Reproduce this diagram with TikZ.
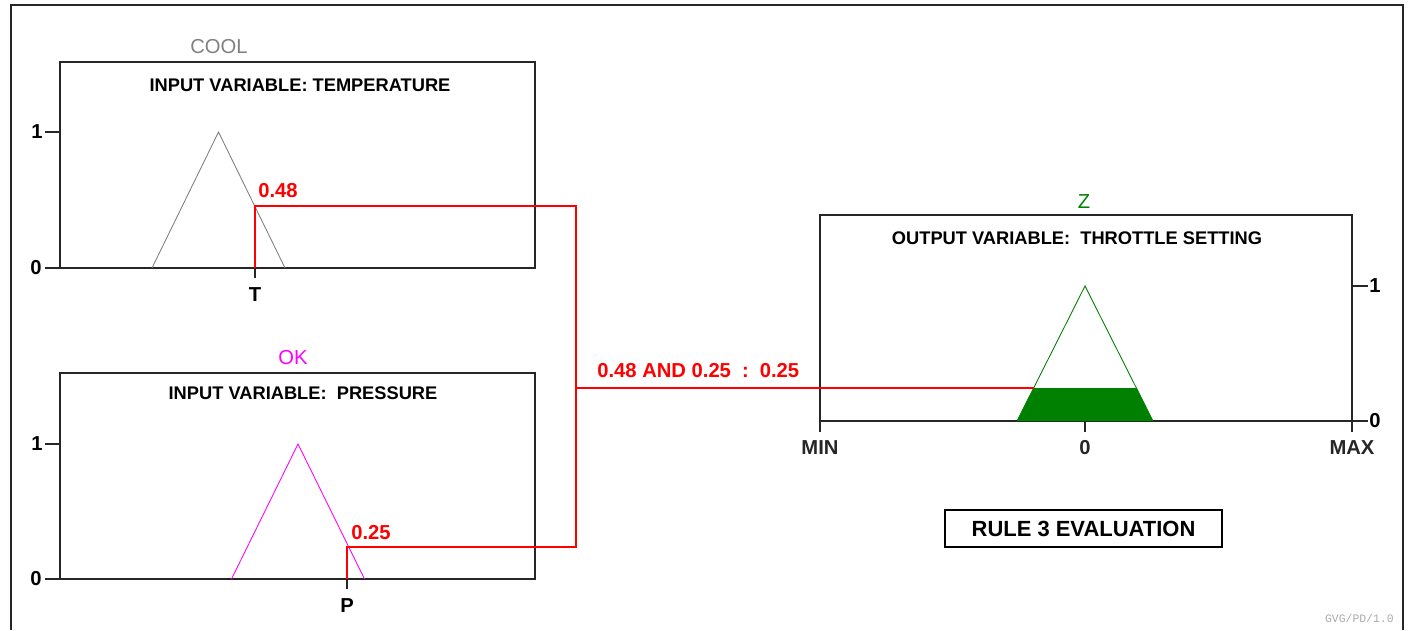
\documentclass[tikz,border=0pt]{standalone}
\usepackage{fontspec}
\setmainfont{Liberation Sans}
\newfontfamily\tagfont{Liberation Mono}
\usetikzlibrary{calc}
\definecolor{coolgray}{RGB}{128,128,128}
\definecolor{okmagenta}{RGB}{255,0,255}
\definecolor{zgreen}{RGB}{0,128,0}
\definecolor{taggray}{RGB}{170,170,170}

\tikzset{
  axis/.style={line width=0.8pt, black!85},
  mf/.style={line width=0.5pt},
  cut/.style={red, line width=0.6pt},
  title/.style={font=\fontsize{10.4}{12}\selectfont\bfseries, inner sep=0pt},
  lbl/.style={font=\fontsize{11.5}{13}\selectfont\bfseries, inner sep=0pt},
  setname/.style={font=\fontsize{11.5}{13}\selectfont, inner sep=0pt},
  value/.style={lbl, text=red, anchor=west}
}

\begin{document}
\begin{tikzpicture}[x=0.02cm, y=-0.02cm]
  \useasboundingbox (0,0) rectangle (1409,630);

  % Outer frame (open at the bottom)
  \draw[axis] (11,630) -- (11,5) -- (1403,5) -- (1403,630);

  % Input box: temperature
  \draw[axis] (60,62) rectangle (535,268);
  \node[title] (ttitle) at (300,85) {INPUT VARIABLE: TEMPERATURE};
  \node[setname, text=coolgray] (cool) at (219,47) {COOL};
  \draw[axis] (45,132) -- (60,132);
  \draw[axis] (45,268) -- (60,268);
  \node[lbl, anchor=east] (tone) at (43,132) {1};
  \node[lbl, anchor=east] (tzero) at (42,268) {0};
  \draw[mf, coolgray] (152,268) -- (218.5,132) -- (285,268);

  % Input box: pressure
  \draw[axis] (60,373) rectangle (535,579);
  \node[title] (ptitle) at (303,393) {INPUT VARIABLE:~ PRESSURE};
  \node[setname, text=okmagenta] (ok) at (293,358) {OK};
  \draw[axis] (45,444) -- (60,444);
  \draw[axis] (45,579) -- (60,579);
  \node[lbl, anchor=east] (pone) at (43,444) {1};
  \node[lbl, anchor=east] (pzero) at (42,579) {0};
  \draw[mf, okmagenta] (231.5,579) -- (298,444) -- (364.5,579);

  % Crisp inputs
  \coordinate (T) at (255,268);
  \coordinate (P) at (347,579);
  \draw[axis] (T) -- ++(0,10);
  \draw[axis] (P) -- ++(0,10);
  \node[lbl] (tlab) at (255,295) {T};
  \node[lbl] (plab) at (347,606) {P};

  % Output box: throttle
  \draw[axis] (820,215) rectangle (1352,421);
  \node[title] (otitle) at (1077,238) {OUTPUT VARIABLE:~ THROTTLE SETTING};
  \node[setname, text=zgreen] (z) at (1084,202) {Z};
  \draw[axis] (1352,286) -- (1368,286);
  \draw[axis] (1352,421) -- (1368,421);
  \node[lbl, anchor=west] (oone) at (1369,286) {1};
  \node[lbl, anchor=west] (ozero) at (1369,421) {0};
  \foreach \x/\name in {820/MIN, 1085/0, 1352/MAX}
    \draw[axis] (\x,421) -- (\x,432) node[lbl, pos=1, yshift=-16*0.02cm] {\name};

  % Clipped consequent
  \fill[zgreen] (1017,421) -- (1033.6,388) -- (1136.4,388) -- (1153,421) -- cycle;
  \draw[mf, zgreen] (1017,421) -- (1085,286) -- (1153,421);

  % Rule strength
  \coordinate (cutT) at (255,206);
  \coordinate (cutP) at (347,547);
  \coordinate (joinT) at (576,206);
  \coordinate (joinP) at (576,547);
  \coordinate (join) at (576,388);
  \coordinate (clipZ) at (1033.6,388);
  \draw[cut] (T) -- (cutT) -- (joinT) -- (joinP) -- (cutP) -- (P);
  \draw[cut] (join) -- (clipZ);
  \node[value] (vt) at (258,191) {0.48};
  \node[value] (vp) at (351,533) {0.25};
  \node[value] (vand) at (597,371) {0.48 AND 0.25 \ :\, 0.25};

  % Caption
  \node[draw, line width=1.3pt, minimum width=277*0.02cm, minimum height=37*0.02cm,
        font=\fontsize{12.5}{14}\selectfont\bfseries] (rule) at (1083.5,528.5) {RULE 3 EVALUATION};
  \node[font=\tagfont\fontsize{6.5}{7}\selectfont, text=taggray, anchor=east, inner sep=0pt]
    (tag) at (1394,618) {GVG/PD/1.0};
\end{tikzpicture}
\end{document}
